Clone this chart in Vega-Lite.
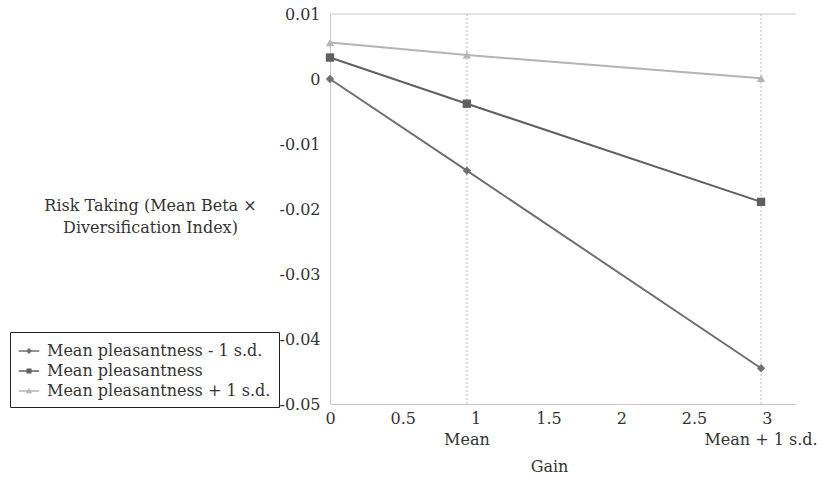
{
  "$schema": "https://vega.github.io/schema/vega-lite/v6.json",
  "width": 466,
  "height": 390,
  "autosize": "none",
  "padding": {"left": 330, "top": 14, "right": 26, "bottom": 74},
  "background": "white",
  "config": {
    "font": "DejaVu Serif",
    "view": {"stroke": null},
    "axis": {"labelFont": "DejaVu Serif", "titleFont": "DejaVu Serif", "labelColor": "#333", "titleColor": "#333", "labelFontSize": 16, "titleFontSize": 16, "titleFontWeight": "normal", "domainColor": "#c8c8c8", "ticks": false, "grid": false},
    "legend": {"labelFont": "DejaVu Serif", "labelFontSize": 16, "labelColor": "#333", "labelLimit": 400}
  },
  "datasets": {
    "series": [
      {"gain": 0, "risk": 0.0, "group": "Mean pleasantness - 1 s.d."},
      {"gain": 0.94, "risk": -0.0141, "group": "Mean pleasantness - 1 s.d."},
      {"gain": 2.96, "risk": -0.0445, "group": "Mean pleasantness - 1 s.d."},
      {"gain": 0, "risk": 0.0033, "group": "Mean pleasantness"},
      {"gain": 0.94, "risk": -0.0038, "group": "Mean pleasantness"},
      {"gain": 2.96, "risk": -0.0189, "group": "Mean pleasantness"},
      {"gain": 0, "risk": 0.0056, "group": "Mean pleasantness + 1 s.d."},
      {"gain": 0.94, "risk": 0.0037, "group": "Mean pleasantness + 1 s.d."},
      {"gain": 2.96, "risk": 0.0001, "group": "Mean pleasantness + 1 s.d."}
    ],
    "refs": [
      {"gain": 0.94, "label": "Mean"},
      {"gain": 2.96, "label": "Mean + 1 s.d."}
    ],
    "top": [{"risk": 0.01}]
  },
  "layer": [
    {
      "data": {"name": "top"},
      "mark": {"type": "rule", "color": "#c8c8c8", "strokeWidth": 1},
      "encoding": {"y": {"field": "risk", "type": "quantitative", "scale": {"domain": [-0.05, 0.01], "nice": false}}}
    },
    {
      "data": {"name": "refs"},
      "mark": {"type": "rule", "color": "#bbbbbb", "strokeDash": [2, 2], "strokeWidth": 1},
      "encoding": {"x": {"field": "gain", "type": "quantitative", "scale": {"domain": [0, 3.2], "nice": false}}}
    },
    {
      "data": {"name": "refs"},
      "mark": {"type": "text", "fontSize": 16, "color": "#333", "baseline": "top", "dy": 28, "font": "DejaVu Serif"},
      "encoding": {
        "x": {"field": "gain", "type": "quantitative"},
        "y": {"datum": -0.05, "type": "quantitative"},
        "text": {"field": "label"}
      }
    },
    {
      "data": {"name": "series"},
      "mark": {"type": "line", "strokeWidth": 2},
      "encoding": {
        "x": {"field": "gain", "type": "quantitative", "scale": {"domain": [0, 3.2], "nice": false},
          "axis": {"values": [0, 0.5, 1, 1.5, 2, 2.5, 3], "format": "~g", "title": "Gain", "labelPadding": 6, "titlePadding": 32, "labelFlush": false, "titleX": 219, "titleAlign": "center"}},
        "y": {"field": "risk", "type": "quantitative", "scale": {"domain": [-0.05, 0.01], "nice": false},
          "axis": {"values": [0.01, 0, -0.01, -0.02, -0.03, -0.04, -0.05], "format": "~g", "labelExpr": "replace(datum.label, '−', '-')", "labelPadding": 10,
            "title": ["Risk Taking (Mean Beta ×", "Diversification Index)"], "titleAngle": 0, "titleAlign": "center", "titleBaseline": "alphabetic", "titleX": -180, "titleY": 196, "titleLineHeight": 22}},
        "color": {"field": "group", "type": "nominal", "legend": null,
          "scale": {"domain": ["Mean pleasantness - 1 s.d.", "Mean pleasantness", "Mean pleasantness + 1 s.d."], "range": ["#707070", "#606060", "#b4b4b4"]}}
      }
    },
    {
      "data": {"name": "series"},
      "mark": {"type": "point", "filled": true, "opacity": 1},
      "encoding": {
        "x": {"field": "gain", "type": "quantitative"},
        "y": {"field": "risk", "type": "quantitative"},
        "color": {"field": "group", "type": "nominal", "legend": null,
          "scale": {"domain": ["Mean pleasantness - 1 s.d.", "Mean pleasantness", "Mean pleasantness + 1 s.d."], "range": ["#707070", "#606060", "#b4b4b4"]}},
        "shape": {"field": "group", "type": "nominal", "legend": null,
          "scale": {"domain": ["Mean pleasantness - 1 s.d.", "Mean pleasantness", "Mean pleasantness + 1 s.d."], "range": ["diamond", "square", "triangle-up"]}},
        "size": {"value": 70}
      }
    },
    {
      "data": {"name": "series"},
      "mark": {"type": "point", "filled": true, "opacity": 0},
      "encoding": {
        "x": {"field": "gain", "type": "quantitative"},
        "y": {"field": "risk", "type": "quantitative"},
        "color": {"field": "group", "type": "nominal",
          "scale": {"domain": ["Mean pleasantness - 1 s.d.", "Mean pleasantness", "Mean pleasantness + 1 s.d."], "range": ["#707070", "#606060", "#b4b4b4"]},
          "legend": {"title": null, "orient": "none", "legendX": -320, "legendY": 318, "strokeColor": "#222", "padding": 8, "rowPadding": 1, "symbolSize": 420, "symbolOpacity": 1, "labelOffset": 7, "fillColor": "white"}},
        "shape": {"field": "group", "type": "nominal",
          "scale": {"domain": ["Mean pleasantness - 1 s.d.", "Mean pleasantness", "Mean pleasantness + 1 s.d."],
            "range": ["M-1,-0.07L1,-0.07L1,0.07L-1,0.07Z M0,-0.3L0.3,0L0,0.3L-0.3,0Z", "M-1,-0.07L1,-0.07L1,0.07L-1,0.07Z M-0.25,-0.25L0.25,-0.25L0.25,0.25L-0.25,0.25Z", "M-1,-0.07L1,-0.07L1,0.07L-1,0.07Z M0,-0.3L0.3,0.22L-0.3,0.22Z"]},
          "legend": {"title": null, "orient": "none", "legendX": -320, "legendY": 318, "strokeColor": "#222", "padding": 8, "rowPadding": 1, "symbolSize": 420, "symbolOpacity": 1, "labelOffset": 7, "fillColor": "white"}}
      }
    }
  ],
  "resolve": {"scale": {"shape": "independent", "color": "independent"}}
}
